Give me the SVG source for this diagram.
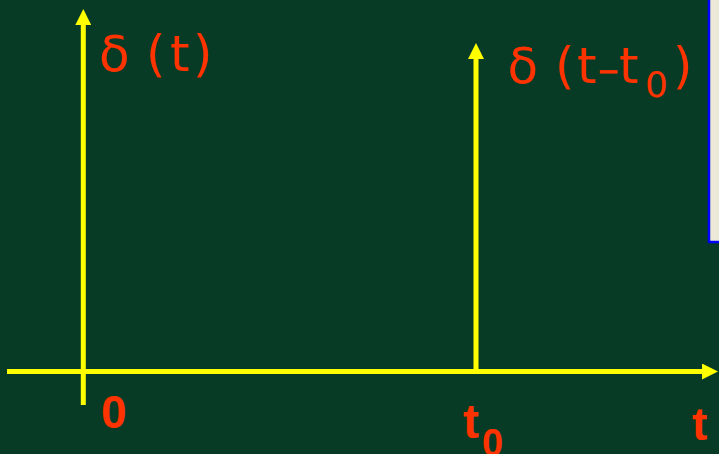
<svg xmlns="http://www.w3.org/2000/svg" width="719" height="454" viewBox="0 0 719 454">
  <style>
    .axis { stroke: #FFFF00; stroke-width: 5; fill: none; }
    .lbl { fill: #FF3300; font-family: "DejaVu Sans", "Noto Sans", sans-serif; font-size: 50px; }
    .tick { fill: #FF3300; font-family: "Liberation Sans", Arial, sans-serif; font-weight: bold; }
  </style>
  <defs>
    <marker id="arrow" viewBox="0 0 16 16" refX="0" refY="8" markerWidth="16" markerHeight="16" markerUnits="userSpaceOnUse" orient="auto">
      <path d="M0,0 L16,8 L0,16 z" fill="#FFFF00"/>
    </marker>
  </defs>
  <rect x="0" y="0" width="719" height="454" fill="#083B25"/>
  <g id="side-panel">
    <rect x="709" y="-4" width="20" height="246" fill="#ECE9D8" stroke="#0000FF" stroke-width="2.5"/>
  </g>
  <g id="connectors">
    <line class="axis" x1="7" y1="371.5" x2="702" y2="371.5" marker-end="url(#arrow)"/>
    <line class="axis" x1="83.3" y1="405" x2="83.3" y2="25" marker-end="url(#arrow)"/>
    <line class="axis" x1="476" y1="371" x2="476" y2="59" marker-end="url(#arrow)"/>
  </g>
  <g id="label-delta-t">
    <text class="lbl" y="71"><tspan x="99">δ</tspan><tspan x="146">(</tspan><tspan x="170">t</tspan><tspan x="193">)</tspan></text>
  </g>
  <g id="label-delta-t-t0">
    <text class="lbl" y="83"><tspan x="597.5" y="80" font-size="26" stroke="#FF3300" stroke-width="1.3">−</tspan><tspan x="507.5" y="83">δ</tspan><tspan x="555">(</tspan><tspan x="577">t</tspan><tspan x="619">t</tspan><tspan x="645" y="97" font-size="36">0</tspan><tspan x="673" y="83">)</tspan></text>
  </g>
  <g id="tick-0">
    <text class="tick" x="101" y="428" font-size="46">0</text>
  </g>
  <g id="tick-t0">
    <text class="tick" x="463" y="438" font-size="48">t<tspan x="482" y="456" font-size="38">0</tspan></text>
  </g>
  <g id="axis-label-t">
    <text class="tick" x="692" y="440" font-size="46">t</text>
  </g>
</svg>
